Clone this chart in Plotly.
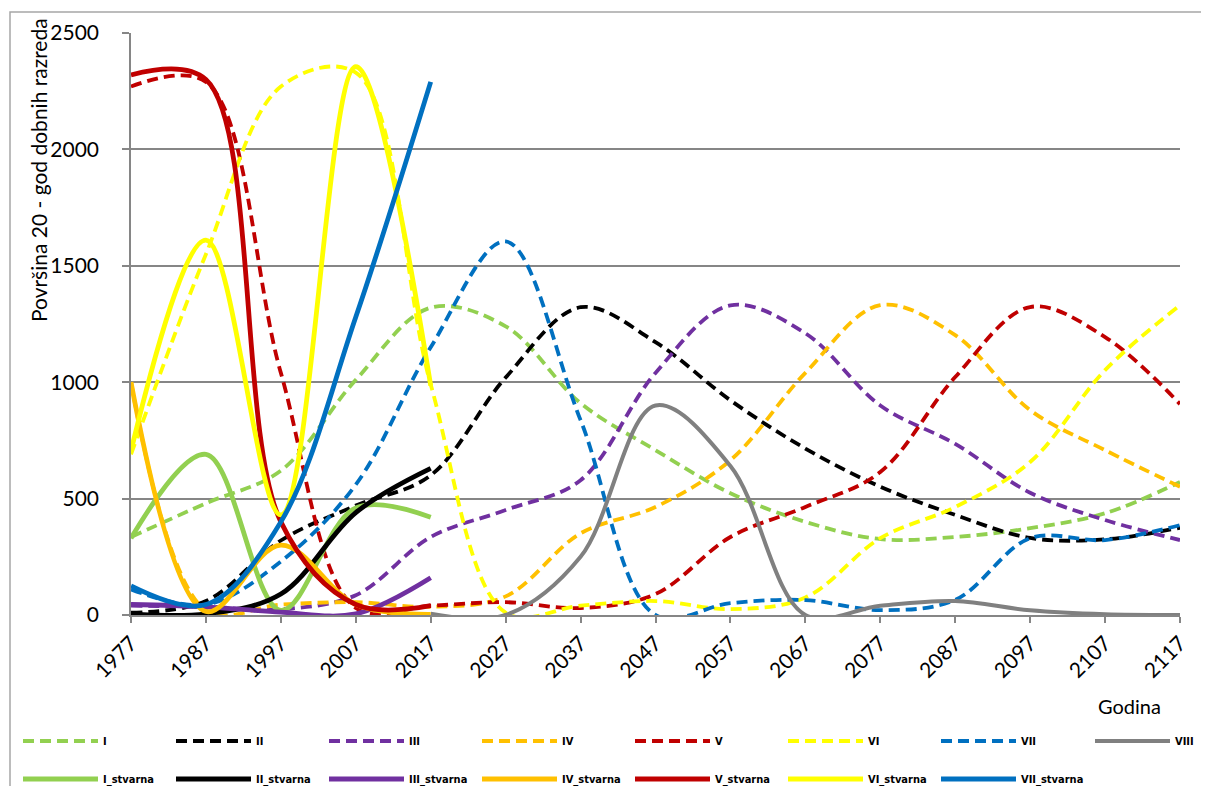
import plotly.graph_objects as go

# godine (svakih 10 god)
years = [1977, 1987, 1997, 2007, 2017, 2027, 2037, 2047, 2057, 2067, 2077, 2087, 2097, 2107, 2117]
years_real = [1977, 1987, 1997, 2007, 2017]
years_viii = [2017, 2027, 2037, 2047, 2057, 2067, 2077, 2087, 2097, 2107, 2117]

# projekcija po dobnim razredima
r_I = [335, 480, 620, 1010, 1320, 1240, 910, 708, 523, 400, 326, 335, 373, 437, 571]
r_II = [10, 60, 320, 470, 600, 1020, 1322, 1172, 922, 715, 551, 430, 331, 325, 375]
r_III = [40, 35, 25, 85, 335, 451, 579, 1040, 1330, 1210, 900, 735, 525, 408, 322]
r_IV = [1000, 20, 45, 55, 35, 80, 351, 464, 665, 1040, 1331, 1202, 880, 708, 551]
r_V = [2270, 2290, 1040, 30, 40, 55, 30, 90, 335, 464, 614, 1022, 1323, 1194, 906]
r_VI = [690, 1550, 2270, 2330, 990, 10, 40, 60, 25, 75, 330, 464, 657, 1052, 1331]
r_VII = [110, 45, 230, 560, 1150, 1605, 837, 0, 51, 64, 21, 65, 330, 322, 386]
r_VIII = [5, 0, 250, 900, 640, 0, 40, 60, 20, 3, 0]

# stvarno stanje
s_I = [330, 690, 20, 460, 420]
s_II = [5, 5, 90, 440, 630]
s_III = [45, 35, 12, 5, 160]
s_IV = [1000, 15, 300, 45, 3]
s_V = [2320, 2300, 400, 45, 40]
s_VI = [705, 1610, 430, 2355, 985]
s_VII = [125, 45, 400, 1280, 2290]

names = ["I", "II", "III", "IV", "V", "VI", "VII"]
colors = ["#92D050", "#000000", "#7030A0", "#FFC000", "#C00000", "#FFFF00", "#0070C0"]
proj = [r_I, r_II, r_III, r_IV, r_V, r_VI, r_VII]
real = [s_I, s_II, s_III, s_IV, s_V, s_VI, s_VII]

fig = go.Figure()

for n, c, vals in zip(names, colors, proj):
    fig.add_trace(go.Scatter(
        x=years, y=vals, name=n, mode="lines", legend="legend",
        line=dict(color=c, width=3.8, dash="11px,6px", shape="spline", smoothing=1)))

fig.add_trace(go.Scatter(
    x=years_viii, y=r_VIII, name="VIII", mode="lines", legend="legend3",
    line=dict(color="#808080", width=4, shape="spline", smoothing=1)))

for n, c, vals in zip(names, colors, real):
    fig.add_trace(go.Scatter(
        x=years_real, y=vals, name=n + "_stvarna", mode="lines", legend="legend2",
        line=dict(color=c, width=4.8, shape="spline", smoothing=1)))

# stranica ima 8px margine tijela, pa je slika pomaknuta
OFF = 8
W, H = 1193, 778
L, T = 123, 25
pw, ph = 1049, 582
R, B = W - L - pw, H - T - ph


def px_x(sx):
    return (sx - OFF - L) / pw


def px_y(sy):
    return (H - B - (sy - OFF)) / ph


leg_font = dict(family="Liberation Sans Narrow, DejaVu Sans Condensed, sans-serif",
                size=11, color="#000000", weight="bold")
leg_common = dict(orientation="h", xanchor="left", yanchor="middle",
                  font=leg_font, itemwidth=75, entrywidthmode="pixels",
                  bgcolor="rgba(0,0,0,0)", itemclick=False)

fig.update_layout(
    width=W, height=H,
    margin=dict(l=L, r=R, t=T, b=B, autoexpand=False),
    paper_bgcolor="white", plot_bgcolor="white",
    font=dict(family="Lato, Open Sans, sans-serif", size=21, color="#000000"),
    xaxis=dict(range=[1977, 2117], tickvals=years, tickangle=-45, showgrid=False,
               showline=True, linecolor="#868686", linewidth=1.5,
               ticks="outside", ticklen=6, tickcolor="#868686", tickwidth=1.5,
               zeroline=False, tickfont=dict(size=21)),
    yaxis=dict(range=[0, 2500], dtick=500, showgrid=True, gridcolor="#868686",
               gridwidth=1.5, showline=True, linecolor="#868686", linewidth=1.5,
               ticks="outside", ticklen=7, tickcolor="#868686", tickwidth=1.5,
               zeroline=False, tickfont=dict(size=21), ticklabelstandoff=19),
    legend=dict(x=px_x(18), y=px_y(741), entrywidth=63, **leg_common),
    legend2=dict(x=px_x(18), y=px_y(779), entrywidth=63, **leg_common),
    legend3=dict(x=px_x(1090), y=px_y(741), entrywidth=40, **leg_common),
    showlegend=True,
)

fig.add_annotation(text="Površina 20 - god dobnih razreda", textangle=-90,
                   xref="paper", yref="paper", x=px_x(38), y=px_y(170),
                   xanchor="center", yanchor="middle",
                   showarrow=False, font=dict(size=21))
fig.add_annotation(text="Godina", xref="paper", yref="paper",
                   x=px_x(1129), y=px_y(706), xanchor="center", yanchor="middle",
                   showarrow=False, font=dict(size=20))

fig.add_shape(type="rect", xref="paper", yref="paper",
              x0=px_x(10), x1=px_x(1230), y0=px_y(820), y1=px_y(12),
              line=dict(color="#A6A6A6", width=1.5), layer="below")

fig.write_html("out.html")
